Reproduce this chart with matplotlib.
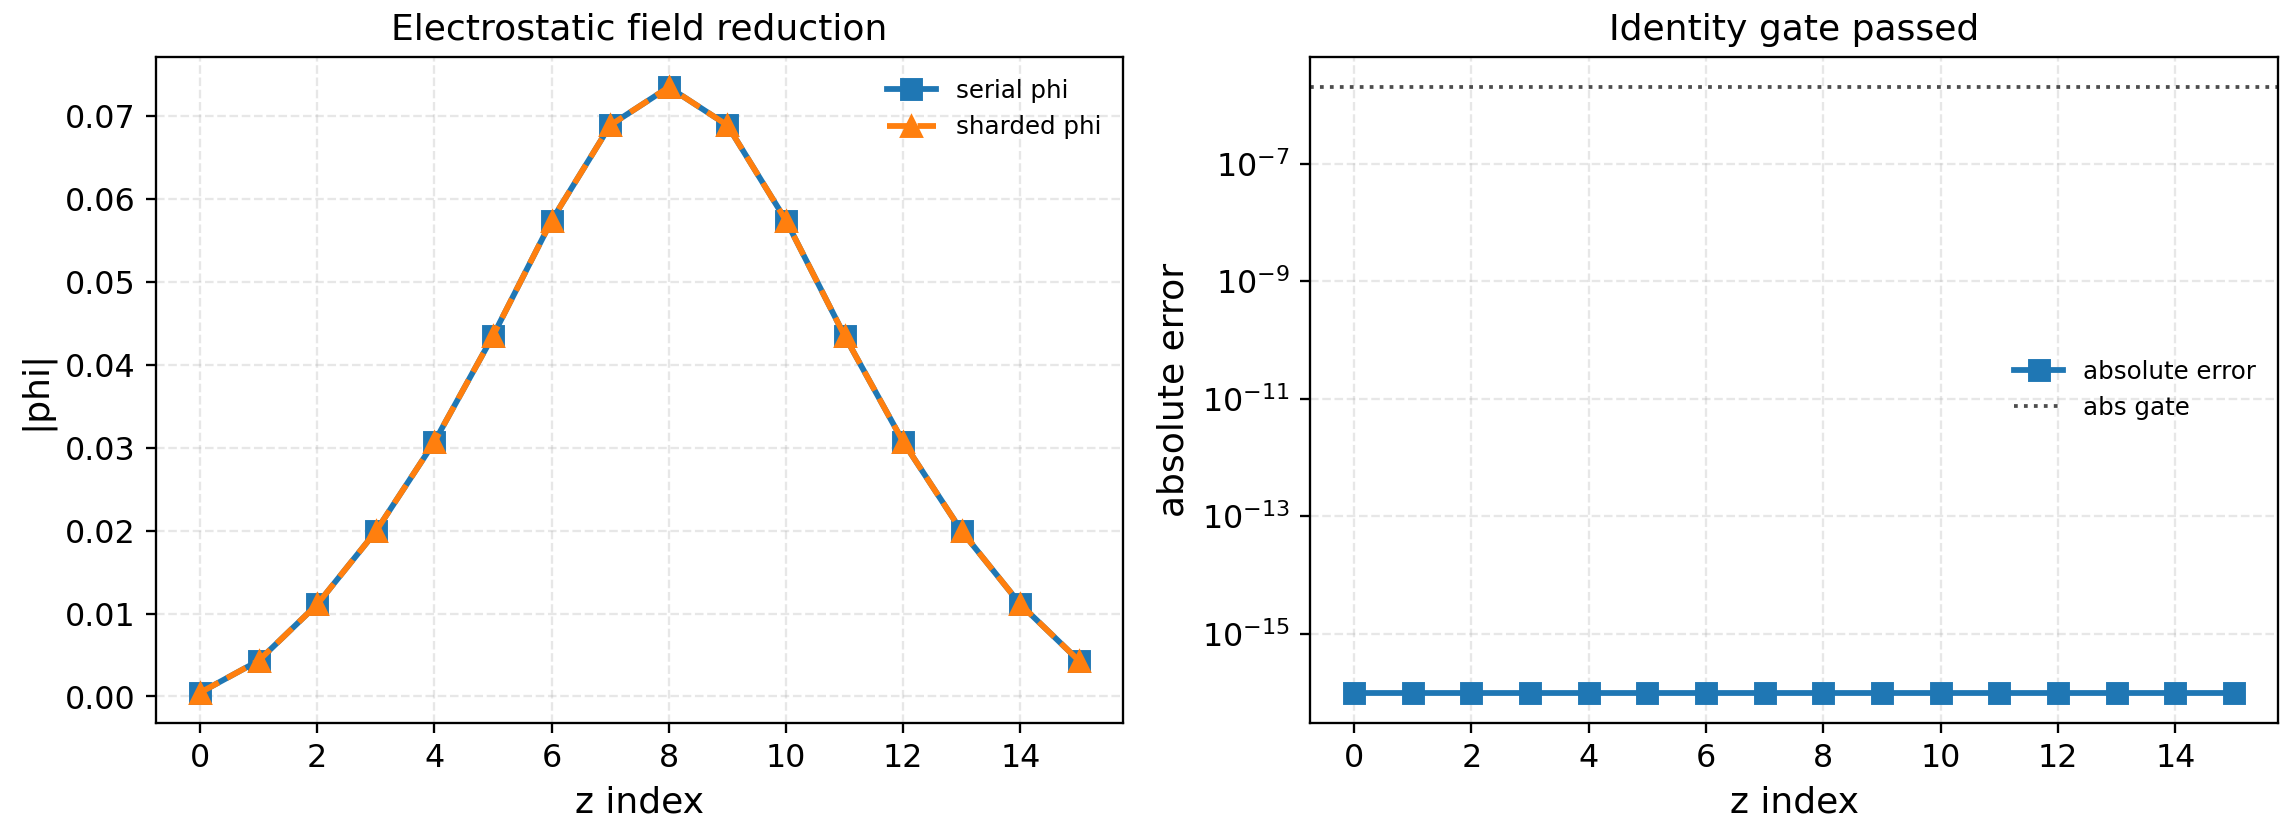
import numpy as np
import matplotlib
matplotlib.use("Agg")
import matplotlib.pyplot as plt

# values
z_index = np.arange(16)
serial_phi = [0.00045, 0.0043, 0.0111, 0.0199, 0.0307, 0.0435, 0.0574, 0.0689,
              0.0735, 0.0689, 0.0574, 0.0435, 0.0307, 0.0199, 0.0111, 0.0043]
sharded_phi = list(serial_phi)
abs_error = [1.0e-16] * 16
abs_gate = 2.0e-6

fig = plt.figure(figsize=(11, 4.02), dpi=208)
W, H = 2288, 836
ax1 = fig.add_axes([156 / W, 1 - 723 / H, (1123 - 156) / W, (723 - 57) / H])
ax2 = fig.add_axes([1310 / W, 1 - 723 / H, (2278 - 1310) / W, (723 - 57) / H])

# left: serial vs sharded
ax1.plot(z_index, serial_phi, "-s", color="#1f77b4", lw=2, ms=7, label="serial phi")
ax1.plot(z_index, sharded_phi, "--^", color="#ff7f0e", lw=2, ms=7, label="sharded phi")
ax1.set_title("Electrostatic field reduction", fontsize=12.5)
ax1.set_xlabel("z index", fontsize=12.5)
ax1.set_ylabel("|phi|", fontsize=12.5)
ax1.set_xticks(range(0, 16, 2))
ax1.grid(True, linestyle="--", alpha=0.3)
ax1.legend(loc="upper right", frameon=False, fontsize=8.5)

# right: absolute error on log scale
ax2.semilogy(z_index, abs_error, "-s", color="#1f77b4", lw=2, ms=7, label="absolute error")
ax2.axhline(abs_gate, color="0.3", ls=":", lw=1.3, label="abs gate")
ax2.set_title("Identity gate passed", fontsize=12.5)
ax2.set_xlabel("z index", fontsize=12.5)
ax2.set_ylabel("absolute error", fontsize=12.5)
ax2.set_xticks(range(0, 16, 2))
ax2.grid(True, linestyle="--", alpha=0.3)
ax2.legend(loc="center right", frameon=False, fontsize=8.5)

for ax in (ax1, ax2):
    ax.tick_params(labelsize=11)

fig.savefig("out.png", dpi=208)
plt.close(fig)
